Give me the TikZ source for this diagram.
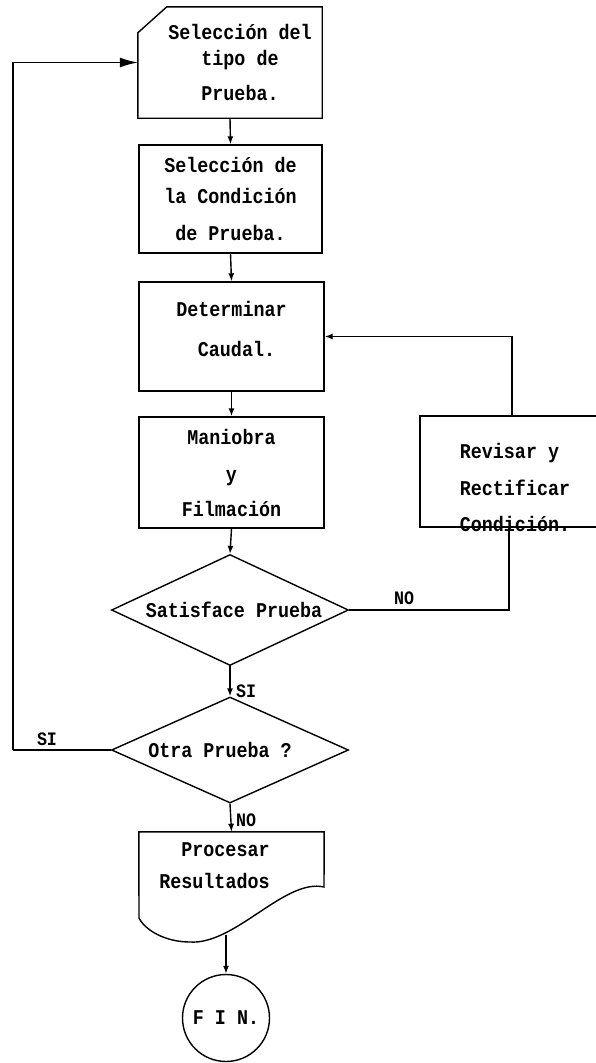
\documentclass[tikz,border=0pt]{standalone}
\usepackage{fontspec}
\setmainfont[FakeStretch=0.875]{Liberation Mono}
\usetikzlibrary{shapes.geometric,arrows.meta,calc}
\begin{document}
\begin{tikzpicture}[x=1pt,y=-1pt,
  every node/.style={font=\bfseries\fontsize{21}{30}\selectfont, inner sep=0pt},
  box/.style={draw, line width=1.4pt, rectangle, align=center},
  plain/.style={draw=none, align=center},
  dia/.style={draw, line width=1.4pt, diamond, minimum width=237pt},
  ln/.style={line width=1.4pt},
  arr/.style={line width=1.4pt, -{Latex[length=8pt,width=6pt]}},
  bigarr/.style={line width=1.4pt, -{Latex[length=18pt,width=10pt]}},
  lbl/.style={font=\bfseries\fontsize{19}{20}\selectfont}
]
\useasboundingbox (0,0) rectangle (595,1063);

% Box 1 (card shape)
\node[plain, minimum width=184pt, minimum height=111pt] (b1) at (230,62.5)
  {\hspace*{20pt}Selección del\\[-4pt]\hspace*{20pt}tipo de\\[5pt]\hspace*{20pt}Prueba.};
\draw[ln] ($(b1.north west)+(0,26)$) -- ($(b1.north west)+(29,0)$) -- (b1.north east)
  -- (b1.south east) -- (b1.south west) -- cycle;

\node[box, minimum width=183pt, minimum height=108pt] (b2) at (230.5,199)
  {Selección de\\[1pt]la Condición\\[7pt]de Prueba.};
\node[box, minimum width=185pt, minimum height=109pt] (b3) at (231.5,336.5)
  {Determinar\\[10pt]\hspace*{10pt}Caudal.\\[-14pt]};
\node[box, minimum width=185pt, minimum height=111pt] (b4) at (231.5,472.5)
  {Maniobra\\[7pt]y\\[5pt]Filmación};
\node[box, minimum width=190pt, minimum height=111pt] (rev) at (515,471.5) {};
\node[plain, align=left] (revt) at (515,487)
  {Revisar y\\[7pt]Rectificar\\[6pt]Condición.};

\node[dia, minimum height=111pt] (d1) at (230,610) {\makebox[0pt]{\hspace*{8pt}Satisface Prueba}};
\node[dia, minimum height=106pt] (d2) at (230,750) {\makebox[0pt]{\hspace*{-20pt}Otra Prueba ?}};

% Document shape
\node[plain, minimum width=185pt, minimum height=110pt] (doc) at (231.5,887)
  {\hspace*{-12pt}Procesar\\[2pt]\hspace*{-34pt}Resultados\\[12pt]};
\draw[ln] (139,918) -- (doc.north west) -- (doc.north east) -- (324,887)
  .. controls (285,878) and (235,945) .. (190,942)
  .. controls (165,942) and (145,930) .. (139,918);
\coordinate (docb) at (226,935);

\node[draw, circle, line width=1.4pt, minimum size=87pt] (fin) at (226,1018) {F I N.};

% connectors
\draw[arr] (b1.south) -- (b2.north);
\draw[arr] (b2.south) -- (b3.north);
\draw[arr] (b3.south) -- (b4.north);
\draw[arr] (b4.south) -- (d1.north);
\draw[arr] ([xshift=-3pt]rev.north) |- (b3.east);
\draw[ln] (d1.east) -| ([xshift=-6pt]rev.south);
\node[lbl] (no1) at (404,598) {NO};
\draw[arr] (d1.south) -- (d2.north);
\node[lbl, anchor=west] (si1) at (236,691) {SI};
\coordinate (lft) at (13,750);
\draw[ln] (d2.west) -- (lft);
\draw[bigarr] (lft) |- (b1.west);
\node[lbl] (si2) at (47,739) {SI};
\draw[arr] (d2.south) -- (doc.north);
\node[lbl, anchor=west] (no2) at (236,820) {NO};
\draw[arr] (docb) -- (fin.north);
\end{tikzpicture}
\end{document}
